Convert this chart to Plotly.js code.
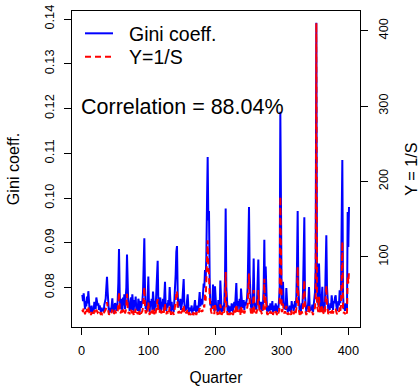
<!DOCTYPE html>
<html>
<head>
<meta charset="utf-8">
<script src="https://cdn.plot.ly/plotly-3.0.1.min.js"></script>
<style>
html, body { margin: 0; padding: 0; background: #fff; }
#chart { width: 420px; height: 387px; }
</style>
</head>
<body>
<div id="chart"></div>
<script>
// Gini coefficient per quarter (left axis)
const gini = [
0.0784,0.0770,0.0787,0.0762,0.0752,0.0770,0.0758,0.0780,0.0765,0.0792,
0.0770,0.0748,0.0758,0.0745,0.0760,0.0742,0.0755,0.0748,0.0768,0.0760,
0.0752,0.0778,0.0770,0.0760,0.0765,0.0750,0.0760,0.0752,0.0745,0.0755,
0.0748,0.0750,0.0745,0.0762,0.0768,0.0775,0.0800,0.0824,0.0790,0.0750,
0.0742,0.0755,0.0748,0.0745,0.0760,0.0776,0.0750,0.0744,0.0758,0.0765,
0.0762,0.0748,0.0755,0.0770,0.0810,0.0886,0.0790,0.0752,0.0765,0.0775,
0.0748,0.0778,0.0760,0.0785,0.0752,0.0770,0.0800,0.0874,0.0790,0.0755,
0.0762,0.0748,0.0770,0.0778,0.0750,0.0785,0.0765,0.0745,0.0772,0.0758,
0.0780,0.0750,0.0762,0.0748,0.0775,0.0768,0.0745,0.0770,0.0755,0.0760,
0.0770,0.0790,0.0850,0.0910,0.0800,0.0752,0.0760,0.0748,0.0775,0.0825,
0.0760,0.0745,0.0770,0.0758,0.0775,0.0750,0.0791,0.0762,0.0748,0.0770,
0.0755,0.0790,0.0835,0.0860,0.0770,0.0750,0.0762,0.0778,0.0745,0.0768,
0.0758,0.0775,0.0750,0.0780,0.0813,0.0760,0.0748,0.0765,0.0755,0.0772,
0.0760,0.0801,0.0752,0.0745,0.0768,0.0750,0.0760,0.0745,0.0770,0.0790,
0.0830,0.0880,0.0893,0.0790,0.0755,0.0770,0.0760,0.0775,0.0750,0.0760,
0.0770,0.0795,0.0819,0.0765,0.0748,0.0760,0.0750,0.0770,0.0785,0.0758,
0.0745,0.0755,0.0748,0.0750,0.0760,0.0742,0.0752,0.0748,0.0760,0.0772,
0.0750,0.0745,0.0760,0.0755,0.0748,0.0770,0.0790,0.0758,0.0765,0.0775,
0.0762,0.0790,0.0809,0.0800,0.0839,0.0815,0.0870,0.0990,0.1092,0.0950,
0.0971,0.0820,0.0760,0.0770,0.0752,0.0760,0.0807,0.0765,0.0748,0.0803,
0.0770,0.0750,0.0760,0.0745,0.0772,0.0755,0.0748,0.0816,0.0760,0.0745,
0.0752,0.0760,0.0748,0.0770,0.0820,0.0977,0.0800,0.0750,0.0745,0.0760,
0.0752,0.0742,0.0758,0.0748,0.0765,0.0750,0.0745,0.0760,0.0768,0.0755,
0.0780,0.0810,0.0765,0.0750,0.0770,0.0760,0.0775,0.0745,0.0798,0.0768,
0.0755,0.0765,0.0772,0.0750,0.0768,0.0760,0.0770,0.0776,0.0800,0.0880,
0.0980,0.0830,0.0770,0.0755,0.0762,0.0748,0.0790,0.0865,0.0770,0.0752,
0.0765,0.0750,0.0770,0.0800,0.0863,0.0770,0.0750,0.0760,0.0768,0.0755,
0.0748,0.0762,0.0800,0.0907,0.0780,0.0847,0.0765,0.0750,0.0745,0.0760,
0.0752,0.0748,0.0765,0.0755,0.0750,0.0770,0.0745,0.0760,0.0755,0.0748,
0.0765,0.0750,0.0745,0.0760,0.0752,0.0770,0.0800,0.1193,0.0810,0.0770,
0.0760,0.0813,0.0770,0.0752,0.0765,0.0750,0.0799,0.0760,0.0745,0.0752,
0.0748,0.0760,0.0750,0.0745,0.0770,0.0755,0.0762,0.0748,0.0760,0.0770,
0.0755,0.0780,0.0850,0.0971,0.0800,0.0752,0.0745,0.0760,0.0748,0.0765,
0.0755,0.0790,0.0880,0.0957,0.0780,0.0750,0.0745,0.0760,0.0752,0.0770,
0.0801,0.0760,0.0748,0.0755,0.0750,0.0762,0.0745,0.0760,0.0770,0.0790,
0.0850,0.1392,0.0800,0.0770,0.0760,0.0854,0.0765,0.0750,0.0748,0.0770,
0.0802,0.0760,0.0750,0.0745,0.0770,0.0820,0.0917,0.0800,0.0755,0.0748,
0.0760,0.0750,0.0765,0.0755,0.0783,0.0760,0.0750,0.0770,0.0765,0.0778,
0.0783,0.0760,0.0748,0.0755,0.0770,0.0760,0.0794,0.0765,0.0800,0.0950,
0.1085,0.0790,0.0752,0.0760,0.0748,0.0765,0.0755,0.0750,0.0969,0.0891,
0.0980
];

// Y = 1/S per quarter (right axis)
const invS = [
30,27,32,26,24,28,25,31,27,33,
28,24,26,23,27,23,25,24,29,27,
25,30,28,26,27,24,27,25,23,25,
24,25,23,27,28,30,34,40,33,25,
23,25,24,23,27,30,25,23,26,28,
27,24,25,28,38,53,33,25,27,29,
24,30,27,31,25,28,35,51,33,25,
27,24,28,30,25,31,27,23,29,26,
31,25,27,24,30,28,23,28,25,27,
28,33,48,60,35,25,27,24,29,40,
27,23,28,26,29,25,32,27,24,28,
25,32,40,44,28,25,27,30,23,28,
26,29,25,30,38,27,24,28,25,29,
27,34,25,23,28,25,27,23,28,33,
40,52,55,32,25,28,27,29,25,27,
28,33,36,27,24,27,25,28,31,26,
23,25,24,25,27,23,25,24,27,29,
25,23,27,25,24,28,32,26,27,29,
27,32,36,33,50,42,65,95,122,85,
78,45,28,28,25,27,35,27,24,36,
28,25,27,23,29,25,24,37,27,23,
25,27,24,28,40,80,33,25,23,27,
25,23,26,24,28,25,23,27,29,25,
30,37,28,25,29,27,30,23,35,29,
25,28,29,25,28,27,29,31,36,55,
78,40,28,25,27,24,33,56,28,25,
28,25,29,35,56,28,25,27,29,25,
24,27,36,71,30,47,28,25,23,27,
25,24,28,25,25,29,23,27,25,24,
28,25,23,27,25,28,35,180,38,28,
27,38,29,25,28,25,35,27,23,25,
24,27,25,23,29,25,27,24,27,29,
25,31,48,87,35,25,23,27,24,28,
25,33,50,69,31,25,23,27,25,29,
37,27,24,25,25,27,23,27,29,33,
45,410,35,28,27,47,28,25,24,29,
36,27,25,23,29,40,62,35,25,24,
27,25,28,25,31,27,25,29,28,30,
31,27,24,25,29,27,33,28,36,70,
120,33,25,27,24,28,25,25,75,65,
82
];

const quarters = gini.map((_, i) => i + 1);
const xTicks = [0, 100, 200, 300, 400];
const giniTicks = [0.08, 0.09, 0.10, 0.11, 0.12, 0.13, 0.14];
const invSTicks = [100, 200, 300, 400];
const seriesNames = ["Gini coeff.", "Y=1/S"];
const corrText = "Correlation = 88.04%";

const FONT = "Liberation Sans, Arial, Helvetica, sans-serif";

const traces = [
  {
    x: quarters, y: gini, type: "scatter", mode: "lines",
    name: seriesNames[0], yaxis: "y",
    line: { color: "#0000FF", width: 2 }
  },
  {
    x: quarters, y: invS, type: "scatter", mode: "lines",
    name: seriesNames[1], yaxis: "y2",
    line: { color: "#FF0000", width: 2, dash: "6px,4px" }
  }
];

const pxX = p => (p - 72) / 288;
const pxY = p => (326.7 - p) / 315.7;

const layout = {
  width: 420, height: 387,
  margin: { l: 72, r: 60, t: 11, b: 60.3, pad: 0 },
  paper_bgcolor: "#fff", plot_bgcolor: "#fff",
  showlegend: false,
  font: { family: FONT, color: "#000", size: 12.8 },
  xaxis: {
    range: [-14.5, 417.5], tickvals: xTicks, ticktext: xTicks.map(String),
    ticks: "outside", ticklen: 7, tickwidth: 1, tickcolor: "#000", ticklabelstandoff: 5,
    showline: true, linecolor: "#000", linewidth: 1, mirror: true,
    showgrid: false, zeroline: false,
    tickfont: { family: FONT, size: 12.8, color: "#000" },
    title: { text: "Quarter", font: { family: FONT, size: 15.6, color: "#000" }, standoff: 14 }
  },
  yaxis: {
    range: [0.0712, 0.1418], tickvals: giniTicks, ticktext: giniTicks.map(v => v.toFixed(2)),
    ticks: "outside", ticklen: 7, tickwidth: 1, tickcolor: "#000", tickangle: -90, ticklabelstandoff: 5,
    showline: true, linecolor: "#000", linewidth: 1, mirror: true,
    showgrid: false, zeroline: false,
    tickfont: { family: FONT, size: 12.8, color: "#000" },
    title: { text: "Gini coeff.", font: { family: FONT, size: 16.2, color: "#000" }, standoff: 18 }
  },
  yaxis2: {
    range: [7, 426], tickvals: invSTicks, ticktext: invSTicks.map(String),
    overlaying: "y", side: "right",
    ticks: "outside", ticklen: 7, tickwidth: 1, tickcolor: "#000", tickangle: -90, ticklabelstandoff: 5,
    showline: true, linecolor: "#000", linewidth: 1,
    showgrid: false, zeroline: false,
    tickfont: { family: FONT, size: 12.8, color: "#000" },
    title: { text: "Y = 1/S", font: { family: FONT, size: 16.2, color: "#000" }, standoff: 15 }
  },
  shapes: [
    { type: "line", xref: "paper", yref: "paper", x0: pxX(85), x1: pxX(113), y0: pxY(33.3), y1: pxY(33.3),
      line: { color: "#0000FF", width: 2 } },
    { type: "line", xref: "paper", yref: "paper", x0: pxX(85), x1: pxX(113), y0: pxY(56.7), y1: pxY(56.7),
      line: { color: "#FF0000", width: 2, dash: "6px,4px" } }
  ],
  annotations: [
    { xref: "paper", yref: "paper", x: pxX(126.5), y: pxY(33.5), xanchor: "left", yanchor: "middle",
      text: seriesNames[0], showarrow: false, font: { family: FONT, size: 19.5, color: "#000" } },
    { xref: "paper", yref: "paper", x: pxX(126.5), y: pxY(57), xanchor: "left", yanchor: "middle",
      text: seriesNames[1], showarrow: false, font: { family: FONT, size: 19.5, color: "#000" } },
    { xref: "paper", yref: "paper", x: pxX(79), y: pxY(106.7), xanchor: "left", yanchor: "middle",
      text: corrText, showarrow: false, font: { family: FONT, size: 21.5, color: "#000" } }
  ]
};

Plotly.newPlot("chart", traces, layout, { displayModeBar: false, staticPlot: true });
</script>
</body>
</html>
